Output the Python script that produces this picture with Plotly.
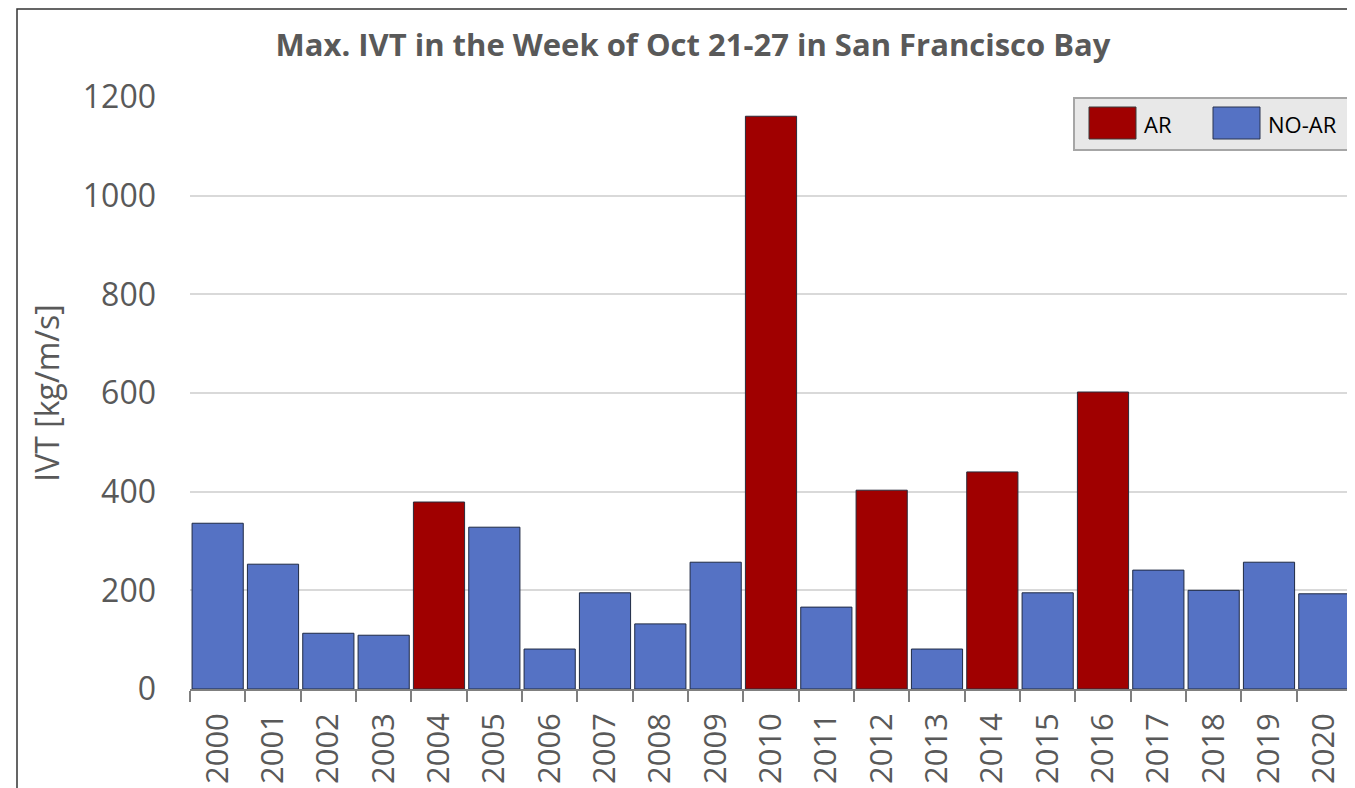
import plotly.graph_objects as go

years = [str(y) for y in range(2000, 2021)]
ivt = [336, 253, 113, 109, 379, 328, 81, 195, 132, 257, 1161, 166, 403, 81, 440, 195, 602, 241, 200, 257, 193]
ar_years = ["2004", "2010", "2012", "2014", "2016"]

ar_vals = [v if y in ar_years else None for y, v in zip(years, ivt)]
noar_vals = [None if y in ar_years else v for y, v in zip(years, ivt)]

AR_COLOR = "#A00000"
NOAR_COLOR = "#5572C4"
FONT = "Open Sans"

OFF = 8  # page body margin
W, H = 1347, 780
L, R, T, B = 182, 3, 89, 99
pw = W - L - R
ph = H - T - B

def px(x):
    return (x - OFF - L) / pw

def py(y):
    return (H - B - (y - OFF)) / ph

fig = go.Figure()
fig.add_trace(go.Bar(x=years, y=ar_vals, name="AR", marker=dict(color=AR_COLOR, line=dict(color="#2a2a3a", width=1))))
fig.add_trace(go.Bar(x=years, y=noar_vals, name="NO-AR", marker=dict(color=NOAR_COLOR, line=dict(color="#1f2a44", width=1))))

shapes = [dict(type="rect", xref="paper", yref="paper",
               x0=px(17), x1=px(1380), y0=py(820), y1=py(9),
               line=dict(color="#333333", width=1.5), fillcolor="rgba(0,0,0,0)", layer="above")]
# legend box and swatches (layout decoration)
shapes.append(dict(type="rect", xref="paper", yref="paper", x0=px(1074), x1=px(1350), y0=py(150), y1=py(98),
                   line=dict(color="#a6a6a6", width=2), fillcolor="#e8e8e8", layer="above"))
shapes.append(dict(type="rect", xref="paper", yref="paper", x0=px(1089), x1=px(1136), y0=py(139), y1=py(107),
                   line=dict(color="#3a3a3a", width=1), fillcolor=AR_COLOR, layer="above"))
shapes.append(dict(type="rect", xref="paper", yref="paper", x0=px(1213), x1=px(1260), y0=py(139), y1=py(107),
                   line=dict(color="#2a3450", width=1), fillcolor=NOAR_COLOR, layer="above"))
annotations = [
    dict(text="AR", xref="paper", yref="paper", x=px(1142), y=py(124), xanchor="left", yanchor="middle",
         showarrow=False, font=dict(size=22, color="#000000", family=FONT)),
    dict(text="NO-AR", xref="paper", yref="paper", x=px(1266), y=py(124), xanchor="left", yanchor="middle",
         showarrow=False, font=dict(size=22, color="#000000", family=FONT)),
]

fig.update_layout(
    width=W, height=H,
    margin=dict(l=L, r=R, t=T, b=B, autoexpand=False),
    paper_bgcolor="white", plot_bgcolor="white",
    barmode="overlay", bargap=0.075,
    showlegend=False,
    font=dict(family=FONT, color="#595959"),
    title=dict(text="<b>Max. IVT in the Week of Oct 21-27 in San Francisco Bay</b>",
               x=(693 - OFF) / W, xanchor="center", y=1 - (45 - OFF) / H, yanchor="middle",
               font=dict(size=31, color="#595959", family=FONT)),
    xaxis=dict(type="category", tickangle=-90, tickfont=dict(size=31, color="#595959"),
               showline=True, linecolor="#7f7f7f", linewidth=1.5,
               ticks="outside", tickson="boundaries", ticklen=11, tickcolor="#7f7f7f", tickwidth=1.5,
               ticklabelstandoff=10, showgrid=False, automargin=False),
    yaxis=dict(range=[0, 1200], dtick=200, tickfont=dict(size=32, color="#595959"),
               showgrid=True, gridcolor="#d9d9d9", gridwidth=1.5, zeroline=False,
               ticks="", ticklabelstandoff=33, automargin=False,
               title=dict(text="IVT [kg/m/s]", font=dict(size=32, color="#595959"), standoff=13)),
    shapes=shapes,
    annotations=annotations,
)

fig.write_html("out.html")
